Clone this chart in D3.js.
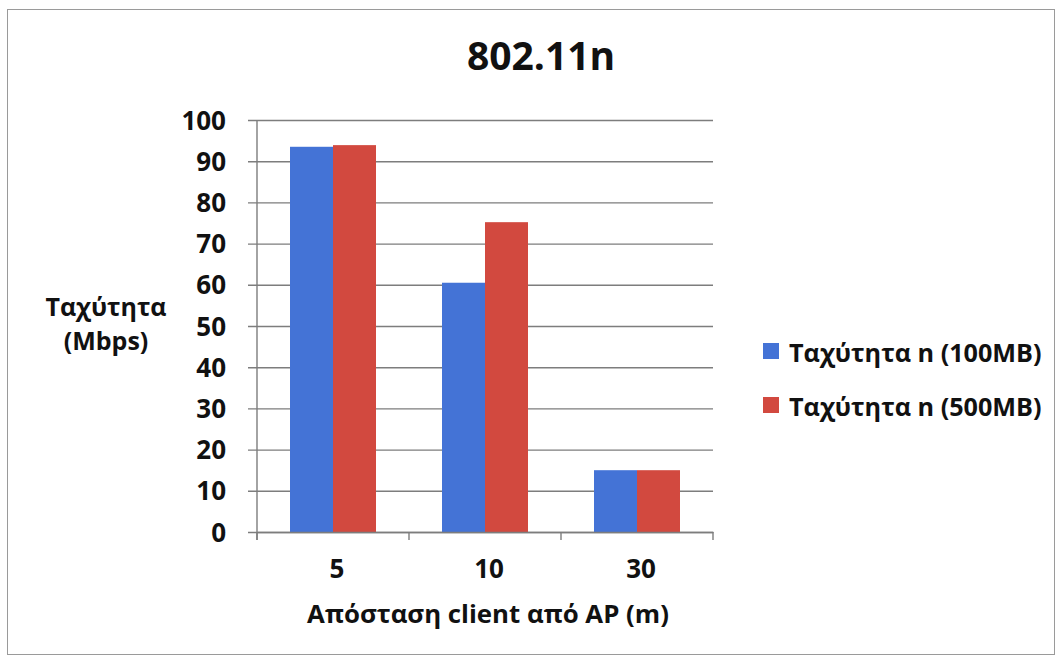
<!DOCTYPE html>
<html>
<head>
<meta charset="utf-8">
<script src="https://cdn.jsdelivr.net/npm/d3@7"></script>
<style>
  html, body { margin: 0; padding: 0; background: #fff; }
  svg { display: block; }
  text { font-family: "Open Sans", "Noto Sans", sans-serif; font-weight: bold; fill: #111; }
</style>
</head>
<body>
<svg id="chart" width="1063" height="661"></svg>
<script>
// Throughput per client distance, for two transfer sizes
const distances = ["5", "10", "30"];
const seriesNames = ["Ταχύτητα n (100MB)", "Ταχύτητα n (500MB)"];
const speed100MB = [93.5, 60.5, 15.0];
const speed500MB = [93.9, 75.2, 15.0];
const yTicks = [0, 10, 20, 30, 40, 50, 60, 70, 80, 90, 100];
const colors = ["#4473D6", "#D2493F"];

const svg = d3.select("#chart");

// outer frame
svg.append("rect")
  .attr("x", 7.5).attr("y", 9.5)
  .attr("width", 1047).attr("height", 645)
  .attr("fill", "#fff").attr("stroke", "#9a9a9a").attr("stroke-width", 1);

const plot = { left: 257, right: 713, top: 120, bottom: 532 };

const x0 = d3.scaleBand().domain(distances).range([plot.left, plot.right]).paddingInner(0).paddingOuter(0);
const innerPad = (x0.bandwidth() - 86) / 2;
const x1 = d3.scaleBand().domain([0, 1]).range([innerPad, x0.bandwidth() - innerPad]).padding(0);
const y = d3.scaleLinear().domain([0, 100]).range([plot.bottom, plot.top]);

// horizontal gridlines with outward tick marks
const yAxis = d3.axisLeft(y).tickValues(yTicks)
  .tickSize(-(plot.right - plot.left)).tickFormat(d3.format("d"));
const gy = svg.append("g").attr("transform", `translate(${plot.left},0)`).call(yAxis);
gy.select(".domain").remove();
gy.selectAll(".tick line")
  .attr("x1", -9)
  .attr("stroke", "#7d7d7d").attr("stroke-width", 1.4);
gy.selectAll(".tick text")
  .attr("font-size", 26).attr("font-weight", "bold")
  .attr("font-family", "'Open Sans', 'Noto Sans', sans-serif").attr("fill", "#111")
  .attr("x", -31).attr("dy", "0.35em");

// bars
const data = distances.map((d, i) => ({ d, vals: [speed100MB[i], speed500MB[i]] }));
const groups = svg.append("g").selectAll("g").data(data).join("g")
  .attr("transform", g => `translate(${x0(g.d)},0)`);
groups.selectAll("rect").data(g => g.vals.map((v, k) => ({ v, k }))).join("rect")
  .attr("x", e => x1(e.k))
  .attr("width", x1.bandwidth())
  .attr("y", e => y(e.v))
  .attr("height", e => y(0) - y(e.v))
  .attr("fill", e => colors[e.k]);

// vertical axis line
svg.append("line")
  .attr("x1", plot.left).attr("x2", plot.left)
  .attr("y1", plot.top).attr("y2", plot.bottom + 8)
  .attr("stroke", "#7d7d7d").attr("stroke-width", 1.4);

// category axis
const xAxis = d3.axisBottom(x0).tickSize(0).tickPadding(28);
const gx = svg.append("g").attr("transform", `translate(0,${plot.bottom})`).call(xAxis);
gx.select(".domain").attr("stroke", "#7d7d7d").attr("stroke-width", 1.4);
gx.selectAll(".tick text")
  .attr("font-size", 26).attr("font-weight", "bold")
  .attr("font-family", "'Open Sans', 'Noto Sans', sans-serif").attr("fill", "#111")
  .attr("x", 4);
// separators between categories
const bounds = distances.map(d => x0(d)).concat([plot.right]);
svg.append("g").selectAll("line").data(bounds).join("line")
  .attr("x1", d => d).attr("x2", d => d)
  .attr("y1", plot.bottom).attr("y2", plot.bottom + 8)
  .attr("stroke", "#7d7d7d").attr("stroke-width", 1.4);

// title
svg.append("text").attr("x", 541).attr("y", 70)
  .attr("text-anchor", "middle").attr("font-size", 39).text("802.11n");

// axis titles
svg.append("text").attr("x", 488).attr("y", 623)
  .attr("text-anchor", "middle").attr("font-size", 25.8).text("Απόσταση client από AP (m)");
const yt = svg.append("text").attr("text-anchor", "middle").attr("font-size", 25);
yt.append("tspan").attr("x", 106).attr("y", 316).text("Ταχύτητα");
yt.append("tspan").attr("x", 106).attr("y", 350).text("(Mbps)");

// legend
const legend = svg.append("g").selectAll("g").data(seriesNames).join("g")
  .attr("transform", (d, i) => `translate(763,${351 + i * 54})`);
legend.append("rect").attr("x", 0).attr("y", -8).attr("width", 16).attr("height", 16)
  .attr("fill", (d, i) => colors[i]);
legend.append("text").attr("x", 26).attr("y", 11).attr("font-size", 25.2).text(d => d);
</script>
</body>
</html>
